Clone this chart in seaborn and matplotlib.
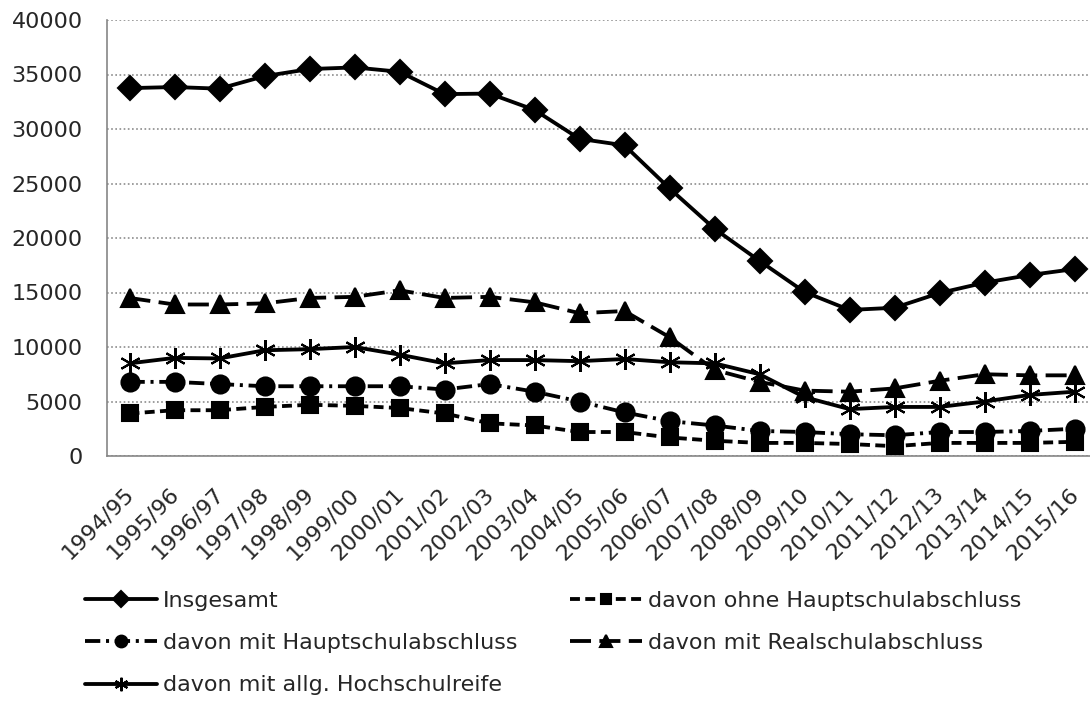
import numpy as np
import seaborn as sns
import matplotlib.pyplot as plt
import matplotlib.transforms as mtransforms

years = ["1994/95", "1995/96", "1996/97", "1997/98", "1998/99", "1999/00",
         "2000/01", "2001/02", "2002/03", "2003/04", "2004/05", "2005/06",
         "2006/07", "2007/08", "2008/09", "2009/10", "2010/11", "2011/12",
         "2012/13", "2013/14", "2014/15", "2015/16"]

insgesamt = [33750, 33850, 33700, 34850, 35500, 35650, 35250, 33200, 33250, 31750, 29100,
             28500, 24550, 20850, 17900, 15050, 13400, 13600, 14950, 15900, 16600, 17150]
ohne_haupt = [3900, 4200, 4200, 4500, 4700, 4600, 4400, 3900, 3000, 2800, 2200,
              2200, 1700, 1400, 1200, 1200, 1100, 900, 1200, 1200, 1200, 1300]
mit_haupt = [6800, 6800, 6600, 6400, 6400, 6400, 6400, 6100, 6600, 5900, 5000,
             4000, 3200, 2800, 2300, 2200, 2000, 1900, 2200, 2200, 2300, 2500]
mit_real = [14500, 13900, 13900, 14000, 14500, 14600, 15200, 14500, 14600, 14100, 13100,
            13300, 10900, 7900, 6800, 6000, 5900, 6200, 6900, 7500, 7400, 7400]
mit_abi = [8500, 9000, 8950, 9700, 9800, 10000, 9300, 8500, 8800, 8800, 8700,
           8900, 8600, 8500, 7500, 5400, 4300, 4500, 4500, 5000, 5600, 5900]

names = ["Insgesamt", "davon ohne Hauptschulabschluss", "davon mit Hauptschulabschluss",
         "davon mit Realschulabschluss", "davon mit allg. Hochschulreife"]
series = [insgesamt, ohne_haupt, mit_haupt, mit_real, mit_abi]
markers = ["D", "s", "o", "^", (6, 2, 0)]
styles = ["-", (0, (2.6, 1.4)), (0, (4, 1.5, 0.8, 1.5)), (0, (5.5, 2.2)), "-"]
msizes = [12, 12, 13, 13, 15]

sns.set_style("white")
plt.rcParams["font.family"] = ["DejaVu Sans"]
plt.rcParams["font.size"] = 16

fig = plt.figure(figsize=(10.9, 7.06), dpi=100)
ax = fig.add_axes([107 / 1090, 1 - 456 / 706, 990 / 1090, 436 / 706])

pos = np.arange(len(years))
for name, vals, mk, ls, ms in zip(names, series, markers, styles, msizes):
    sns.lineplot(x=pos, y=vals, color="black", marker=mk, linestyle=ls,
                 linewidth=2.75, markersize=ms, markeredgewidth=1.5,
                 markeredgecolor="black", label=name, ax=ax)

ax.set_xlim(-0.5, len(years) - 0.5)
ax.set_ylim(0, 40000)
ax.set_yticks(np.arange(0, 40001, 5000))
ax.set_xticks(pos)
ax.set_xticklabels(years, rotation=45, ha="right", rotation_mode="anchor")
ax.set_xticks(np.arange(-0.5, len(years), 1), minor=True)
ax.tick_params(axis="x", which="major", length=0, pad=20)
ax.tick_params(axis="x", which="minor", length=5, color="#868686", width=1.2, direction="out")
ax.tick_params(axis="y", length=5.5, color="#868686", width=1.2, direction="out", pad=12)
shift = mtransforms.ScaledTranslation(-6 / 100, 0, fig.dpi_scale_trans)
for lab in ax.get_xticklabels():
    lab.set_transform(lab.get_transform() + shift)
ax.set_xlabel("")
ax.set_ylabel("")
ax.grid(axis="y", linestyle=(0, (1, 1.5)), color="#8c8c8c", linewidth=1.2)
ax.set_axisbelow(True)
for s in ["top", "right"]:
    ax.spines[s].set_visible(False)
for s in ["left", "bottom"]:
    ax.spines[s].set_color("#868686")
    ax.spines[s].set_linewidth(1.2)

handles, labels = ax.get_legend_handles_labels()
lookup = dict(zip(labels, handles))
ax.get_legend().remove()
leg_kw = dict(loc="upper left", frameon=False, handlelength=3.25, handletextpad=0.27,
              labelspacing=1.0, borderpad=0, borderaxespad=0, markerscale=0.65,
              fontsize=16)
left_col = [names[0], names[2], names[4]]
right_col = [names[1], names[3]]
fig.legend([lookup[n] for n in left_col], left_col,
           bbox_to_anchor=(85 / 1090, 1 - 591 / 706), **leg_kw)
fig.legend([lookup[n] for n in right_col], right_col,
           bbox_to_anchor=(570 / 1090, 1 - 591 / 706), **leg_kw)

fig.savefig("out.png", dpi=100)
